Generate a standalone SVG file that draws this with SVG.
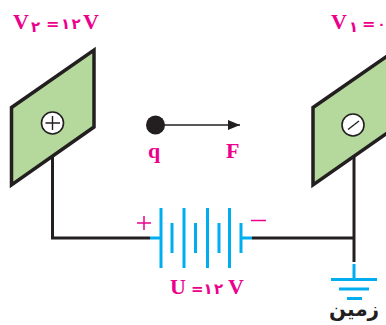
<svg xmlns="http://www.w3.org/2000/svg" width="386" height="325" viewBox="0 0 386 325">
<style>
.pl{fill:#b5d99c;stroke:#231f20;stroke-width:3.5;stroke-linejoin:miter}
.w{fill:none;stroke:#231f20;stroke-width:3}
.b{fill:none;stroke:#00aeef;stroke-width:3}
.c{fill:#fff;stroke:#231f20;stroke-width:1.6}
.s{fill:none;stroke:#231f20;stroke-width:1.4}
.t{font-family:"Liberation Serif","DejaVu Sans",serif;font-weight:bold;fill:#ec008c}
.d{font-family:"DejaVu Sans",sans-serif;font-weight:bold;fill:#ec008c}
</style>
<defs><marker id="ah" markerUnits="userSpaceOnUse" markerWidth="13" markerHeight="10" refX="12" refY="5" orient="auto"><path d="M0 0L12 5L0 10Z" fill="#231f20"/></marker></defs>
<g id="connectors">
<path class="w" d="M52.500 154V238H150"/>
<path class="w" d="M354 154V262M252 238H354"/>
<path d="M164 125H240" fill="none" stroke="#231f20" stroke-width="1.700" marker-end="url(#ah)"/>
</g>
<g id="plate-left">
<path class="pl" d="M11.500 107.500L94 50V127L11.500 185Z"/>
<circle class="c" cx="52.500" cy="123" r="11"/>
<path class="s" d="M45.500 123H60M52.500 116V130"/>
</g>
<g id="plate-right">
<path class="pl" d="M313 107.500L396 50V127L313 185Z"/>
<circle class="c" cx="353" cy="125" r="11"/>
<path class="s" d="M348 129.500L359 121"/>
</g>
<g id="charge">
<circle cx="155.500" cy="125" r="9.500" fill="#231f20"/>
<text class="t" x="148" y="158" font-size="22">q</text>
<text class="t" x="226" y="158" font-size="22">F</text>
</g>
<g id="battery">
<path class="b" d="M150 238H161M161 208V268M184 208V268M207.500 208V268M229.500 208V268M172 223V253M195.500 223V253M219 223V253M241 223V253M241 238H252"/>
<path d="M137 223H151M144 216V230M251 220.500H266" fill="none" stroke="#ec008c" stroke-width="1.500"/>
<text class="t" x="170" y="294" font-size="22">U</text>
<text class="d" x="191" y="294" font-size="15">=</text>
<text class="d" x="203.500" y="294" font-size="15">۱</text>
<text class="d" x="214" y="294" font-size="15">۲</text>
<text class="t" x="228" y="294" font-size="22">V</text>
</g>
<g id="ground">
<path class="b" d="M354 264V279M331 279.500H377M339 289H369M347 298.500H362"/>
<text x="354" y="316" text-anchor="middle" font-family="'Noto Sans','DejaVu Sans',sans-serif" font-weight="bold" font-size="20" fill="#231f20">زمین</text>
</g>
<g id="label-v2">
<text class="t" x="13" y="29" font-size="22">V</text>
<text class="d" x="31" y="32" font-size="15">۲</text>
<text class="d" x="46" y="29" font-size="16">=</text>
<text class="d" x="61" y="29" font-size="15">۱</text>
<text class="d" x="71.500" y="29" font-size="15">۲</text>
<text class="t" x="83" y="29" font-size="22">V</text>
</g>
<g id="label-v1">
<text class="t" x="331" y="29" font-size="22">V</text>
<text class="d" x="349" y="32" font-size="15">۱</text>
<text class="d" x="362" y="29" font-size="16">=</text>
<text class="d" x="385.500" y="29" font-size="13" text-anchor="end">۰</text>
</g>
</svg>
